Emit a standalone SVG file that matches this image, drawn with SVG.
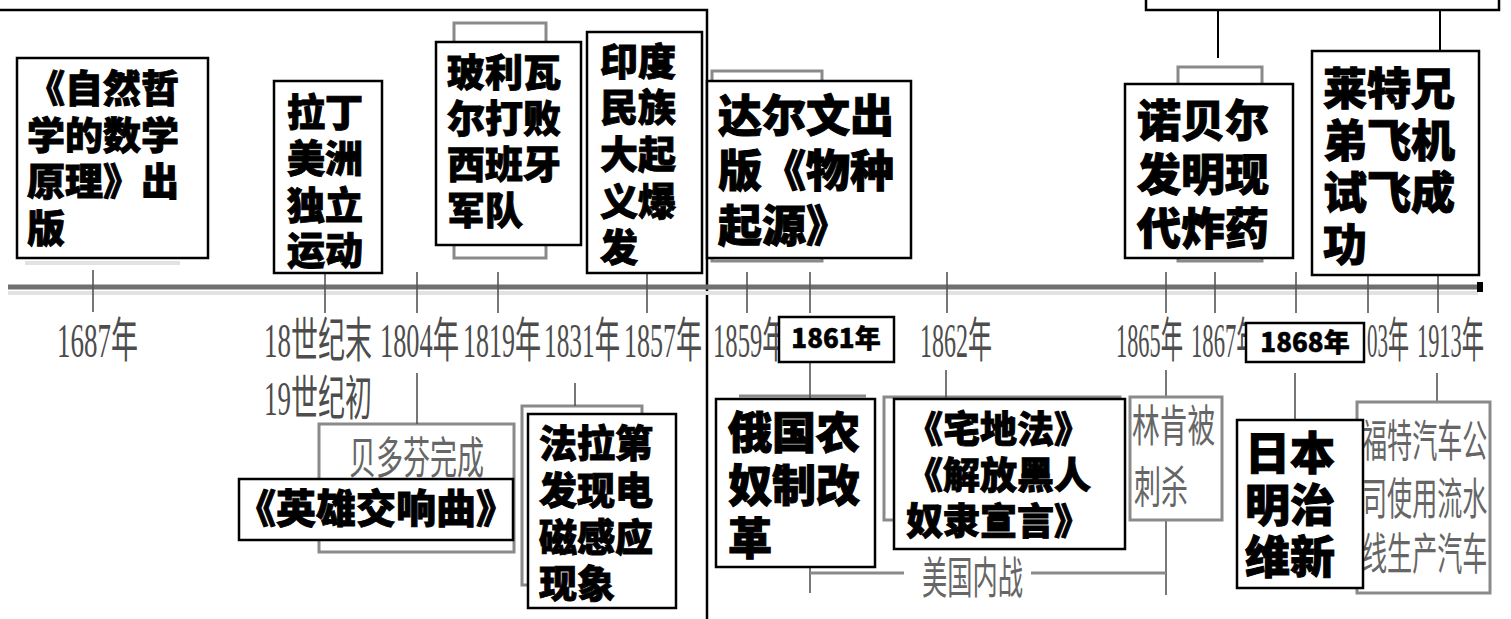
<svg xmlns="http://www.w3.org/2000/svg" width="1511" height="619" viewBox="0 0 1511 619">
<style>
.bx{fill:#fff;stroke:#000;stroke-width:2.5}
.gb{fill:#fff;stroke:#8a8a8a;stroke-width:3}
.b38{font-family:"Noto Sans CJK SC",sans-serif;font-weight:900;font-size:38px;fill:#000;stroke:#000;stroke-width:0.9}
.b44{font-family:"Noto Sans CJK SC",sans-serif;font-weight:900;font-size:44px;fill:#000;stroke:#000;stroke-width:1}
.b25{font-family:"Noto Sans CJK SC",sans-serif;font-weight:900;font-size:26px;fill:#000;stroke:#000;stroke-width:0.5}
.lb{font-family:"Liberation Serif","Noto Sans CJK SC",serif;font-size:48px;fill:#4d4d4d}
.gt{font-family:"Liberation Serif","Noto Sans CJK SC",serif;font-size:44px;fill:#666}
.tk{stroke:#555;stroke-width:1.6;fill:none}
.gl{stroke:#8a8a8a;stroke-width:3;fill:none}
.sh{stroke:#e2e2e2;stroke-width:4;fill:none}
</style>
<rect width="1511" height="619" fill="#fff"/>

<!-- frame -->
<polyline points="-2,10 707,10 707,621" fill="none" stroke="#000" stroke-width="2.5"/>

<!-- axis -->
<g id="axis">
<line x1="8" y1="293" x2="1478" y2="293" class="sh"/>
<line x1="8" y1="287" x2="1478" y2="287" stroke="#707070" stroke-width="5"/>
<rect x="1477" y="282" width="6" height="10" fill="#000"/>
</g>

<!-- background gray (underlying) boxes -->
<g id="underlay">
<line x1="25" y1="263" x2="180" y2="263" class="sh"/>
<rect x="454" y="23" width="92" height="235" class="gb"/>
<rect x="712" y="71" width="110" height="190" class="gb"/>
<rect x="1178" y="67" width="84" height="194" class="gb"/>
<rect x="319" y="424" width="195" height="128" class="gb"/>
<rect x="522" y="406" width="120" height="179" class="gb"/>
<line x1="739" y1="396" x2="866" y2="396" class="gl"/>
<rect x="884" y="397" width="236" height="123" class="gb"/>
</g>

<!-- connectors / ticks -->
<g id="connectors">
<line x1="93" y1="270" x2="93" y2="312" class="tk"/>
<line x1="325" y1="273" x2="325" y2="313" class="tk"/>
<line x1="417" y1="272" x2="417" y2="313" class="tk"/>
<line x1="498" y1="272" x2="498" y2="313" class="tk"/>
<line x1="647" y1="273" x2="647" y2="313" class="tk"/>
<line x1="747" y1="272" x2="747" y2="313" class="tk"/>
<line x1="810" y1="272" x2="810" y2="313" class="tk"/>
<line x1="947" y1="272" x2="947" y2="313" class="tk"/>
<line x1="1166" y1="272" x2="1166" y2="313" class="tk"/>
<line x1="1215" y1="272" x2="1215" y2="313" class="tk"/>
<line x1="1296" y1="272" x2="1296" y2="313" class="tk"/>
<line x1="1368" y1="275" x2="1368" y2="313" class="tk"/>
<line x1="1438" y1="275" x2="1438" y2="313" class="tk"/>
<line x1="417" y1="373" x2="417" y2="424" class="tk"/>
<line x1="575" y1="383" x2="575" y2="406" class="tk"/>
<line x1="810" y1="362" x2="810" y2="399" class="tk"/>
<line x1="810" y1="567" x2="810" y2="593" class="tk"/>
<line x1="946" y1="370" x2="946" y2="399" class="tk"/>
<line x1="1166" y1="370" x2="1166" y2="397" class="tk"/>
<line x1="1166" y1="520" x2="1166" y2="595" class="tk"/>
<line x1="1295" y1="373" x2="1295" y2="420" class="tk"/>
<line x1="1437" y1="373" x2="1437" y2="402" class="tk"/>
<line x1="810" y1="573" x2="904" y2="573" class="gl"/>
<line x1="1031" y1="573" x2="1166" y2="573" class="gl"/>
<line x1="1218" y1="10" x2="1218" y2="58" stroke="#000" stroke-width="2"/>
<line x1="1440" y1="10" x2="1440" y2="51" stroke="#000" stroke-width="2"/>
</g>

<!-- axis labels -->
<g id="labels">
<text class="lb" transform="translate(57,357) scale(0.5625,1)">1687年</text>
<text class="lb" transform="translate(264,357) scale(0.5625,1)">18世纪末</text>
<text class="lb" transform="translate(264,415) scale(0.5625,1)">19世纪初</text>
<text class="lb" transform="translate(380,357) scale(0.549,1)">1804年</text>
<text class="lb" transform="translate(463,357) scale(0.542,1)">1819年</text>
<text class="lb" transform="translate(544,357) scale(0.528,1)">1831年</text>
<text class="lb" transform="translate(624,357) scale(0.542,1)">1857年</text>
<text class="lb" transform="translate(713,357) scale(0.514,1)">1859年</text>
<text class="lb" transform="translate(920,357) scale(0.5,1)">1862年</text>
<text class="lb" transform="translate(1116,357) scale(0.465,1)">1865年</text>
<text class="lb" transform="translate(1191,357) scale(0.472,1)">1867年</text>
<text class="lb" transform="translate(1367,357) scale(0.4375,1)">03年</text>
<text class="lb" transform="translate(1417,357) scale(0.465,1)">1913年</text>
</g>

<!-- top right cut box -->
<g id="n-topright"><rect x="1146" y="-20" width="353" height="30" class="bx"/></g>

<g id="n-ziran">
<rect x="17" y="58" width="191" height="200" class="bx"/>
<text class="b38"><tspan x="27" y="102">《自然哲</tspan><tspan x="27" y="149">学的数学</tspan><tspan x="27" y="195">原理》出</tspan><tspan x="27" y="242">版</tspan></text>
</g>

<g id="n-lading">
<rect x="274" y="81" width="108" height="192" class="bx"/>
<text class="b38"><tspan x="287" y="126">拉丁</tspan><tspan x="287" y="172">美洲</tspan><tspan x="287" y="219">独立</tspan><tspan x="287" y="264">运动</tspan></text>
</g>

<g id="n-bolivar">
<rect x="436" y="42" width="145" height="203" class="bx"/>
<text class="b38"><tspan x="447" y="86">玻利瓦</tspan><tspan x="447" y="132">尔打败</tspan><tspan x="447" y="178">西班牙</tspan><tspan x="447" y="224">军队</tspan></text>
</g>

<g id="n-india">
<rect x="587" y="32" width="115" height="241" class="bx"/>
<text class="b38"><tspan x="600" y="75">印度</tspan><tspan x="600" y="121">民族</tspan><tspan x="600" y="168">大起</tspan><tspan x="600" y="215">义爆</tspan><tspan x="600" y="261">发</tspan></text>
</g>

<g id="n-darwin">
<rect x="707" y="81" width="204" height="177" class="bx"/>
<text class="b44"><tspan x="718" y="132">达尔文出</tspan><tspan x="718" y="187">版《物种</tspan><tspan x="718" y="242">起源》</tspan></text>
</g>

<g id="n-nobel">
<rect x="1125" y="84" width="168" height="174" class="bx"/>
<text class="b44"><tspan x="1137" y="137">诺贝尔</tspan><tspan x="1137" y="191">发明现</tspan><tspan x="1137" y="245">代炸药</tspan></text>
</g>

<g id="n-wright">
<rect x="1312" y="51" width="167" height="224" class="bx"/>
<text class="b44"><tspan x="1323" y="105">莱特兄</tspan><tspan x="1323" y="157">弟飞机</tspan><tspan x="1323" y="209">试飞成</tspan><tspan x="1323" y="261">功</tspan></text>
</g>

<g id="n-beethoven">
<text class="gt" transform="translate(349,474) scale(0.614,1)">贝多芬完成</text>
<rect x="239" y="479" width="274" height="61" class="bx"/>
<text class="b38" x="376" y="523" text-anchor="middle" style="font-size:40px">《英雄交响曲》</text>
</g>

<g id="n-faraday">
<rect x="528" y="414" width="148" height="194" class="bx"/>
<text class="b38"><tspan x="539" y="457">法拉第</tspan><tspan x="539" y="504">发现电</tspan><tspan x="539" y="551">磁感应</tspan><tspan x="539" y="597">现象</tspan></text>
</g>

<g id="n-1861">
<rect x="779" y="317" width="115" height="45" class="bx"/>
<text class="b25" x="836" y="348" text-anchor="middle">1861年</text>
</g>

<g id="n-russia">
<rect x="716" y="399" width="159" height="168" class="bx"/>
<text class="b44"><tspan x="728" y="449">俄国农</tspan><tspan x="728" y="502">奴制改</tspan><tspan x="728" y="555">革</tspan></text>
</g>

<g id="n-homestead">
<rect x="894" y="399" width="231" height="150" class="bx"/>
<text class="b38" style="font-size:37px"><tspan x="906" y="443">《宅地法》</tspan><tspan x="906" y="489">《解放黑人</tspan><tspan x="906" y="535">奴隶宣言》</tspan></text>
</g>

<g id="n-civilwar">
<text class="gt" transform="translate(922,594) scale(0.574,1)">美国内战</text>
</g>

<g id="n-lincoln">
<rect x="1130" y="397" width="92" height="123" class="gb"/>
<text class="gt" transform="translate(1132,442) scale(0.63,1)">林肯被</text>
<text class="gt" transform="translate(1134,503) scale(0.614,1)">刺杀</text>
</g>

<g id="n-1868">
<rect x="1246" y="323" width="118" height="39" class="bx"/>
<text class="b25" x="1305" y="352" text-anchor="middle">1868年</text>
</g>

<g id="n-ford">
<rect x="1357" y="402" width="133" height="191" class="gb"/>
<text class="gt" transform="translate(1362,457) scale(0.57,1)">福特汽车公</text>
<text class="gt" transform="translate(1362,515) scale(0.57,1)">司使用流水</text>
<text class="gt" transform="translate(1362,570) scale(0.57,1)">线生产汽车</text>
</g>

<g id="n-meiji">
<rect x="1237" y="420" width="126" height="168" class="bx"/>
<text class="b44" style="font-size:45px"><tspan x="1245" y="470">日本</tspan><tspan x="1245" y="522">明治</tspan><tspan x="1245" y="574">维新</tspan></text>
</g>
</svg>
